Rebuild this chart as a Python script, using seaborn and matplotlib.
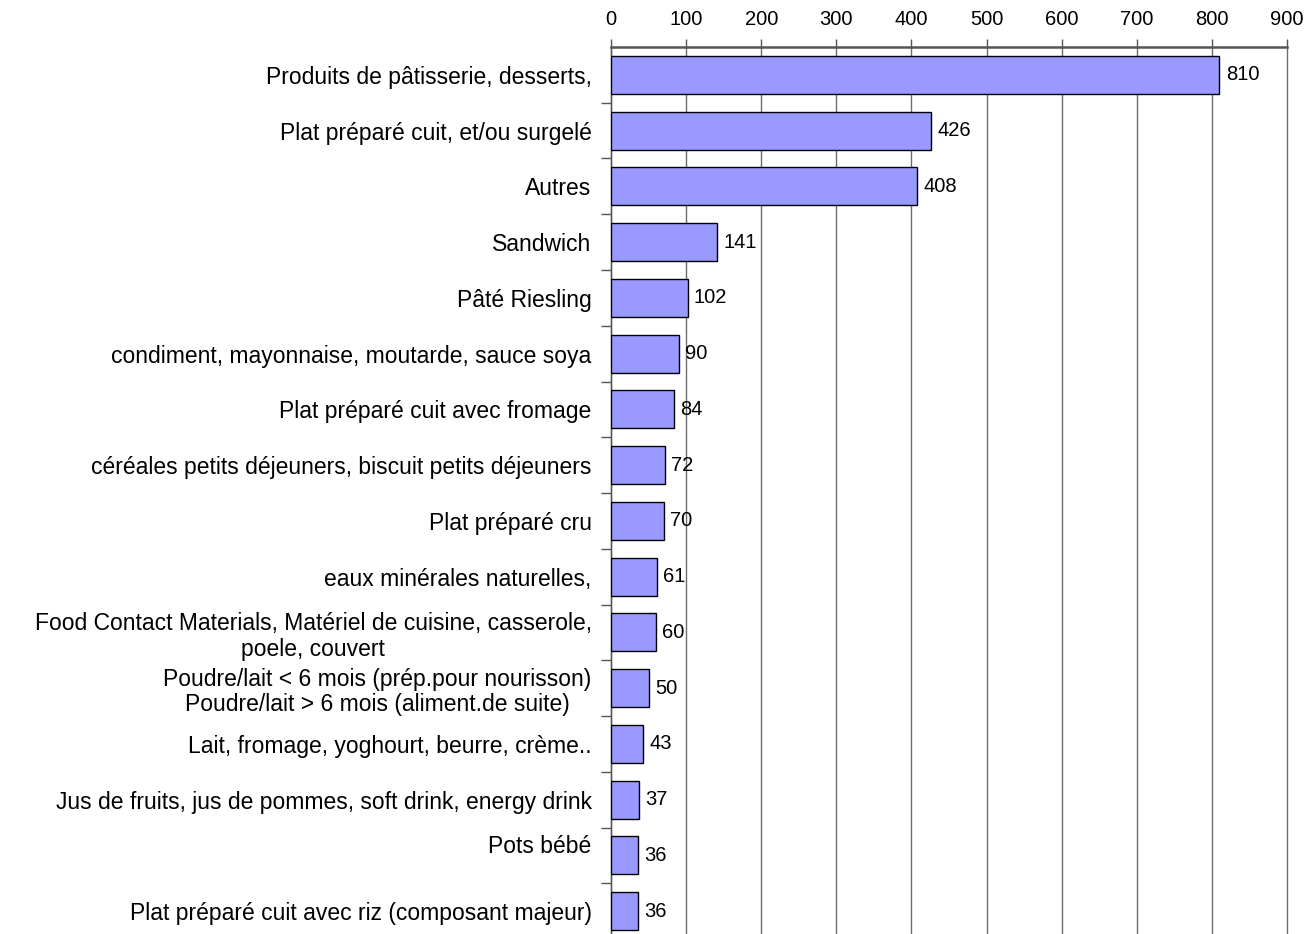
import matplotlib
matplotlib.use("Agg")
import matplotlib.pyplot as plt
import seaborn as sns
import numpy as np
from matplotlib.ticker import FixedLocator

# Product categories and number of notifications
categories = [
    "Produits de pâtisserie, desserts,",
    "Plat préparé cuit, et/ou surgelé",
    "Autres",
    "Sandwich",
    "Pâté Riesling",
    "condiment, mayonnaise, moutarde, sauce soya",
    "Plat préparé cuit avec fromage",
    "céréales petits déjeuners, biscuit petits déjeuners",
    "Plat préparé cru",
    "eaux minérales naturelles,",
    "Food Contact Materials, Matériel de cuisine, casserole,\npoele, couvert",
    "Poudre/lait < 6 mois (prép.pour nourisson)\nPoudre/lait > 6 mois (aliment.de suite)",
    "Lait, fromage, yoghourt, beurre, crème..",
    "Jus de fruits, jus de pommes, soft drink, energy drink",
    "Pots bébé\n ",
    "Plat préparé cuit avec riz (composant majeur)",
]
values = [810, 426, 408, 141, 102, 90, 84, 72, 70, 61, 60, 50, 43, 37, 36, 36]
x_ticks = [0, 100, 200, 300, 400, 500, 600, 700, 800, 900]

sns.set_theme(style="white")
plt.rcParams["font.family"] = ["Liberation Sans", "DejaVu Sans"]
plt.rcParams["text.color"] = "black"

fig = plt.figure(figsize=(13.06, 9.34), dpi=100)
ax = fig.add_axes([0.4678, -0.0054, 0.5177, 0.9551])

sns.barplot(x=values, y=categories, order=categories, orient="h",
            color="#9999FF", saturation=1, edgecolor="black", linewidth=1.0,
            width=0.68, ax=ax, zorder=3)

n = len(categories)
ax.set_xlim(0, 900)
ax.set_ylim(n - 0.5, -0.5)

# Value axis on top with vertical gridlines
ax.xaxis.tick_top()
ax.set_xticks(x_ticks)
ax.set_xticklabels([str(t) for t in x_ticks], fontsize=14.5)
ax.tick_params(axis="x", which="major", direction="out", length=6, width=1,
               color="#555555", labelcolor="black", pad=7)
ax.grid(axis="x", color="#6e6e6e", linewidth=1.0, zorder=0)
ax.grid(axis="y", visible=False)
for gl in ax.get_xgridlines():
    gl.set_clip_on(False)

# Category labels; tick marks between categories
ax.set_yticks(np.arange(n))
ax.set_yticklabels(categories, fontsize=16.5)
for lbl in ax.get_yticklabels():
    lbl.set_multialignment("center")
    lbl.set_linespacing(1.15)
ax.tick_params(axis="y", which="major", length=0, pad=14, labelcolor="black")
ax.yaxis.set_minor_locator(FixedLocator(np.arange(n) + 0.5))
ax.tick_params(axis="y", which="minor", direction="out", length=7, width=1,
               color="#555555", left=True)

ax.set_xlabel("")
ax.set_ylabel("")

for side in ["right", "bottom"]:
    ax.spines[side].set_visible(False)
ax.spines["top"].set_color("#555555")
ax.spines["top"].set_linewidth(1.8)
ax.spines["left"].set_color("#555555")
ax.spines["left"].set_linewidth(1)

# Value labels at the end of each bar
for i, v in enumerate(values):
    ax.annotate(str(v), xy=(v, i), xytext=(4.5, 0), textcoords="offset points",
                va="center", ha="left", fontsize=14.5, color="black", zorder=4)

fig.savefig("out.png", dpi=100, facecolor="white")
